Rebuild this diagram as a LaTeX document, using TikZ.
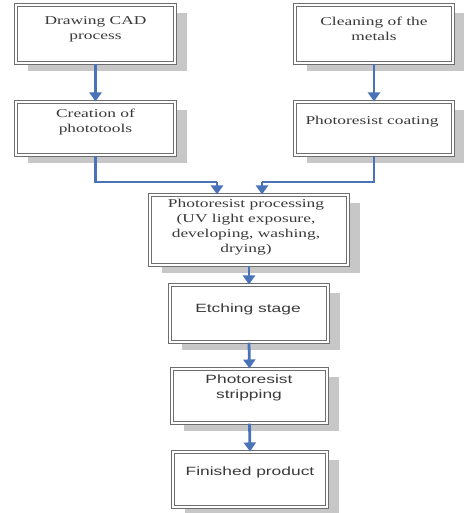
\documentclass[tikz,border=0pt]{standalone}
\usepackage{fontspec}
\newfontfamily\serifx{Liberation Serif}[FakeStretch=1.45]
\newfontfamily\sansx{Liberation Sans}[FakeStretch=1.45]
\usetikzlibrary{arrows.meta,shadows}
\definecolor{arrowblue}{HTML}{4A72B8}
\definecolor{boxline}{HTML}{6E6E6E}
\definecolor{txtgray}{HTML}{3A3A3A}
\tikzset{
  box/.style={draw=boxline, line width=1.1pt, double=white, double distance=1.1pt,
    fill=white, inner sep=0pt, minimum width=#1,
    drop shadow={shadow xshift=12pt, shadow yshift=-8pt, fill=black!22, opacity=1}},
  sertxt/.style={inner sep=0pt, align=center, text=txtgray, font=\serifx\fontsize{12}{15}\selectfont},
  santxt/.style={inner sep=0pt, align=center, text=txtgray, font=\sansx\fontsize{12}{15}\selectfont},
  flow/.style={draw=arrowblue, line width=2.8pt, -{Triangle[width=12pt,length=9pt]}},
  flowline/.style={draw=arrowblue, line width=2.8pt}
}
\begin{document}
\begin{tikzpicture}[x=1pt,y=-1pt]
\useasboundingbox (0,0) rectangle (463,513);
% boxes (centre, width, height)
\node[box=159pt, minimum height=58pt] (b1) at (95.5,34) {};
\node[box=159pt, minimum height=53pt] (b2) at (95.5,128.5) {};
\node[box=158pt, minimum height=58pt] (b3) at (374,34) {};
\node[box=158pt, minimum height=53pt] (b4) at (374,128.5) {};
\node[box=198pt, minimum height=70pt] (b5) at (249,230) {};
\node[box=158pt, minimum height=57pt] (b6) at (249,313.5) {};
\node[box=155pt, minimum height=54pt] (b7) at (249.5,396) {};
\node[box=154pt, minimum height=55pt] (b8) at (250,479.5) {};
% texts
\node[sertxt] (t1) at (95.5,29.5) {Drawing CAD\\process};
\node[sertxt] (t2) at (95.5,122.5) {Creation of\\phototools};
\node[sertxt] (t3) at (374,28.5) {Cleaning of the\\metals};
\node[sertxt] (t4) at (372,122) {Photoresist coating};
\node[sertxt] (t5) at (246,227.5) {Photoresist processing\\(UV light exposure,\\developing, washing,\\drying)};
\node[santxt] (t6) at (248,309) {Etching stage};
\node[santxt] (t7) at (249,387.5) {Photoresist\\stripping};
\node[santxt] (t8) at (250,472) {Finished product};
% connectors
\draw[flow] (b1.south) -- (b2.north);
\draw[flow] (b3.south) -- (b4.north);
\coordinate (jl) at (b2.south |- 0,182);
\coordinate (jr) at (b4.south |- 0,182);
\coordinate (el) at (217,182);
\coordinate (er) at (262,182);
\draw[flowline] (b2.south) -- (jl) -- (el);
\draw[flowline] (b4.south) -- (jr) -- (er);
\draw[flow] (el) -- (el |- b5.north);
\draw[flow] (er) -- (er |- b5.north);
\draw[flow] (b5.south) -- (b6.north);
\draw[flow] (b6.south) -- (b7.north);
\draw[flow] (b7.south) -- (b8.north);
\end{tikzpicture}
\end{document}
